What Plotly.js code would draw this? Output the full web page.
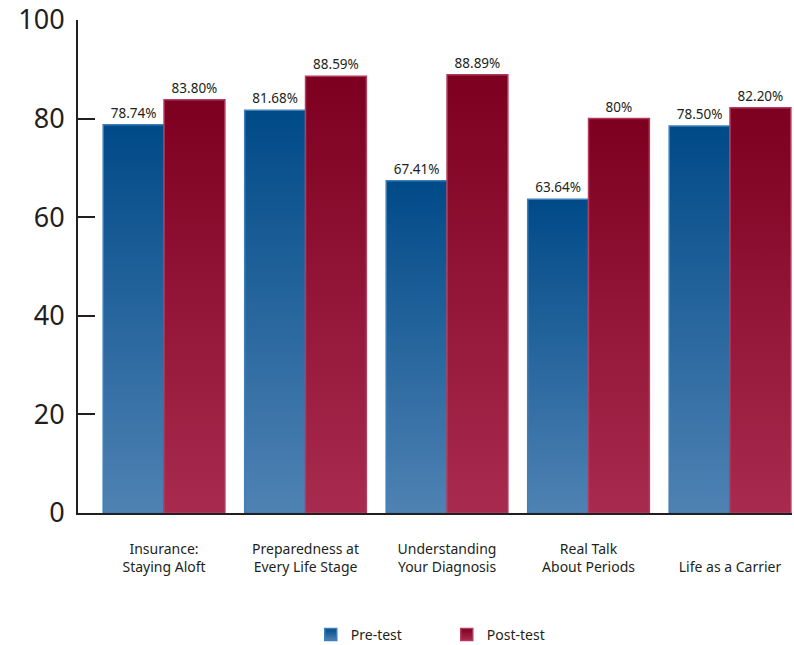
<!DOCTYPE html>
<html>
<head>
<meta charset="utf-8">
<script src="https://cdn.plot.ly/plotly-3.0.1.min.js"></script>
<style>html,body{margin:0;padding:0;background:#fff;}#chart{width:794px;height:645px;}</style>
</head>
<body>
<div id="chart"></div>
<script>
const categories = ["Insurance:<br>Staying Aloft", "Preparedness at<br>Every Life Stage", "Understanding<br>Your Diagnosis", "Real Talk<br>About Periods", " <br>Life as a Carrier"];
const preValues = [78.74, 81.68, 67.41, 63.64, 78.50];
const postValues = [83.80, 88.59, 88.89, 80, 82.20];
const preLabels = ["78.74%", "81.68%", "67.41%", "63.64%", "78.50%"];
const postLabels = ["83.80%", "88.59%", "88.89%", "80%", "82.20%"];
const yTicks = [0, 20, 40, 60, 80, 100];

const ink = "#231f20";
const font = "'Noto Sans', 'Open Sans', sans-serif";

const traces = [
  {type: "bar", name: "Pre-test", x: categories, y: preValues, text: preLabels,
   textposition: "outside", cliponaxis: false, hoverinfo: "none",
   textfont: {size: 13.5, color: ink, family: font},
   marker: {color: "#1f5f9a", line: {color: "#3f7fb8", width: 1.5}}},
  {type: "bar", name: "Post-test", x: categories, y: postValues, text: postLabels,
   textposition: "outside", cliponaxis: false, hoverinfo: "none",
   textfont: {size: 13.5, color: ink, family: font},
   marker: {color: "#931236", line: {color: "#b23a5c", width: 1.5}}}
];

const layout = {
  width: 794, height: 645,
  margin: {l: 78, r: 2, t: 20, b: 132, autoexpand: false},
  paper_bgcolor: "#fff", plot_bgcolor: "#fff",
  font: {family: font, color: ink},
  barmode: "group", bargap: 0.14, bargroupgap: 0,
  showlegend: true,
  legend: {orientation: "h", x: 0.326, xanchor: "left", y: -0.215, yanchor: "top",
           font: {size: 14, color: ink, family: font},
           entrywidth: 91, entrywidthmode: "pixels", traceorder: "normal"},
  xaxis: {type: "category", range: [-0.608, 4.438], showline: true, linecolor: ink, linewidth: 2,
          ticks: "", showgrid: false, zeroline: false, tickfont: {size: 14, color: ink, family: font},
          ticklabelstandoff: 22, automargin: false},
  yaxis: {range: [0, 100], tickvals: yTicks, showline: true, linecolor: ink, linewidth: 2,
          ticks: "inside", ticklen: 17, tickwidth: 2, tickcolor: ink,
          showgrid: false, zeroline: false, tickfont: {size: 27, color: ink, family: font},
          ticklabelstandoff: 6, automargin: false}
};

function addGradients(gd) {
  const svg = gd.querySelector(".main-svg");
  const ns = "http://www.w3.org/2000/svg";
  let defs = svg.querySelector("defs");
  if (!defs) { defs = document.createElementNS(ns, "defs"); svg.insertBefore(defs, svg.firstChild); }
  const specs = [["gradBlue", "#004a88", "#4f82b3"], ["gradRed", "#7e0020", "#a82a4e"]];
  specs.forEach(([id, top, bot]) => {
    const g = document.createElementNS(ns, "linearGradient");
    g.setAttribute("id", id); g.setAttribute("x1", "0"); g.setAttribute("y1", "0");
    g.setAttribute("x2", "0"); g.setAttribute("y2", "1");
    [["0", top], ["1", bot]].forEach(([o, c]) => {
      const s = document.createElementNS(ns, "stop");
      s.setAttribute("offset", o); s.setAttribute("stop-color", c); g.appendChild(s);
    });
    defs.appendChild(g);
  });
  const barTraces = gd.querySelectorAll(".barlayer .trace");
  barTraces.forEach((t, i) => {
    t.querySelectorAll(".point path").forEach(p => { p.style.fill = "url(#" + specs[i][0] + ")"; });
  });
  const legTraces = gd.querySelectorAll(".legend .traces");
  legTraces.forEach((t, i) => {
    t.querySelectorAll(".legendpoints path").forEach(p => { p.style.fill = "url(#" + specs[i][0] + ")"; });
  });
}

Plotly.newPlot("chart", traces, layout, {displayModeBar: false, staticPlot: true}).then(addGradients);
</script>
</body>
</html>
